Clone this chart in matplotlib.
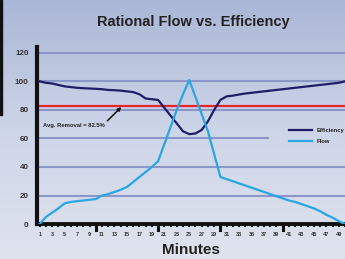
import numpy as np
import matplotlib
matplotlib.use('Agg')
import matplotlib.pyplot as plt
from matplotlib.patches import Rectangle
from matplotlib.colors import LinearSegmentedColormap

# data
minutes = list(range(1, 51))
efficiency = [100, 99, 98.5, 97.5, 96.5, 96, 95.5, 95.2, 95, 94.8,
              94.5, 94, 93.8, 93.5, 93, 92.5, 91, 88, 87.5, 87,
              81.5, 76, 70.5, 65, 63, 63.5, 66, 72, 80, 87,
              89.5, 90, 90.8, 91.5, 92, 92.5, 93, 93.5, 94, 94.5,
              95, 95.5, 96, 96.5, 97, 97.5, 98, 98.5, 99, 100]
flow = [0, 5, 8, 11, 14.5, 15.5, 16, 16.5, 17, 17.5,
        20, 21, 22.5, 24, 26, 29.5, 33, 36.5, 40, 44,
        56, 68, 80, 91, 101, 89, 77, 65, 49, 33,
        31.5, 30, 28.5, 27, 25.5, 24, 22.5, 21, 19.5, 18,
        16.5, 15.5, 14, 12.5, 11, 9, 6.5, 4.5, 2, 0]
avg_removal = 82.5
y_ticks = [0, 20, 40, 60, 80, 100, 120]
x_labels = list(range(1, 50, 2))

plt.rcParams['font.family'] = ['Liberation Sans', 'DejaVu Sans']

fig = plt.figure(figsize=(3.45, 2.59), dpi=100)

# background gradient
bg = fig.add_axes([0, 0, 1, 1], zorder=-10)
grad = np.linspace(0, 1, 256).reshape(-1, 1)
cmap = LinearSegmentedColormap.from_list('bg', ['#dfe3ee', '#cdd5e8', '#aab7d6'])
bg.imshow(grad, aspect='auto', cmap=cmap, origin='lower', extent=[0, 1, 0, 1])
bg.axis('off')
fig.patches.append(Rectangle((0, 0.555), 0.007, 0.445, transform=fig.transFigure,
                             color='#111111', zorder=5))

ax = fig.add_axes([0.107, 0.135, 0.893, 0.683])
ax.patch.set_alpha(0)

for v in y_ticks[1:]:
    if v == 60:
        ax.axhline(v, xmax=0.75, color='#8c96c8', lw=1.5, zorder=1)
    else:
        ax.axhline(v, color='#8c96c8', lw=1.5, zorder=1)

ax.axhline(avg_removal, color='#e8262a', lw=1.6, zorder=2)
ax.plot(minutes, efficiency, color='#1f1d66', lw=1.6, label='Efficiency', zorder=3)
ax.plot(minutes, flow, color='#2aa6e0', lw=1.6, label='Flow', zorder=3)

ax.annotate('Avg. Removal = 82.5%', xy=(14.1, 82), xytext=(1.5, 68),
            fontsize=4.2, fontweight='bold', color='#222222',
            arrowprops=dict(arrowstyle='-|>', color='#111111', lw=1.1,
                            shrinkA=0, shrinkB=0, mutation_scale=5,
                            relpos=(1.0, 0.9)))

ax.set_xlim(0.55, 49.65)
ax.set_ylim(0, 124)
ax.set_yticks(y_ticks)
ax.set_yticklabels([str(v) for v in y_ticks], fontsize=5.8, fontweight='bold', color='#333333')
ax.set_xticks(x_labels)
ax.set_xticklabels([str(v) for v in x_labels], fontsize=4, fontweight='bold', color='#333333')
ax.set_xticks(minutes, minor=True)
ax.tick_params(axis='x', which='minor', length=2.5, width=1.5, color='#111111', direction='out')
ax.tick_params(axis='x', which='major', length=2.5, width=1.5, color='#111111', pad=3)
ax.tick_params(axis='y', length=0, pad=6)
for big in [10, 20, 30, 40]:
    ax.plot([big, big], [0, -4.5], color='#111111', lw=2.2, clip_on=False, zorder=4)

for side in ['top', 'right']:
    ax.spines[side].set_visible(False)
ax.spines['left'].set_linewidth(3)
ax.spines['bottom'].set_linewidth(2.8)
ax.spines['left'].set_color('#111111')
ax.spines['bottom'].set_color('#111111')

ax.set_xlabel('Minutes', fontsize=11, fontweight='bold', color='#222222', labelpad=4.5)
fig.text(0.56, 0.915, 'Rational Flow vs. Efficiency', ha='center', va='center',
         fontsize=10.5, fontweight='bold', color='#222222')

leg = ax.legend(loc='upper left', bbox_to_anchor=(0.81, 0.555), frameon=False,
                fontsize=4.2, handlelength=4.0, handletextpad=0.7,
                labelspacing=0.9, borderaxespad=0)
for t in leg.get_texts():
    t.set_fontweight('bold')
    t.set_color('#222222')

fig.savefig('out.png', dpi=100)
